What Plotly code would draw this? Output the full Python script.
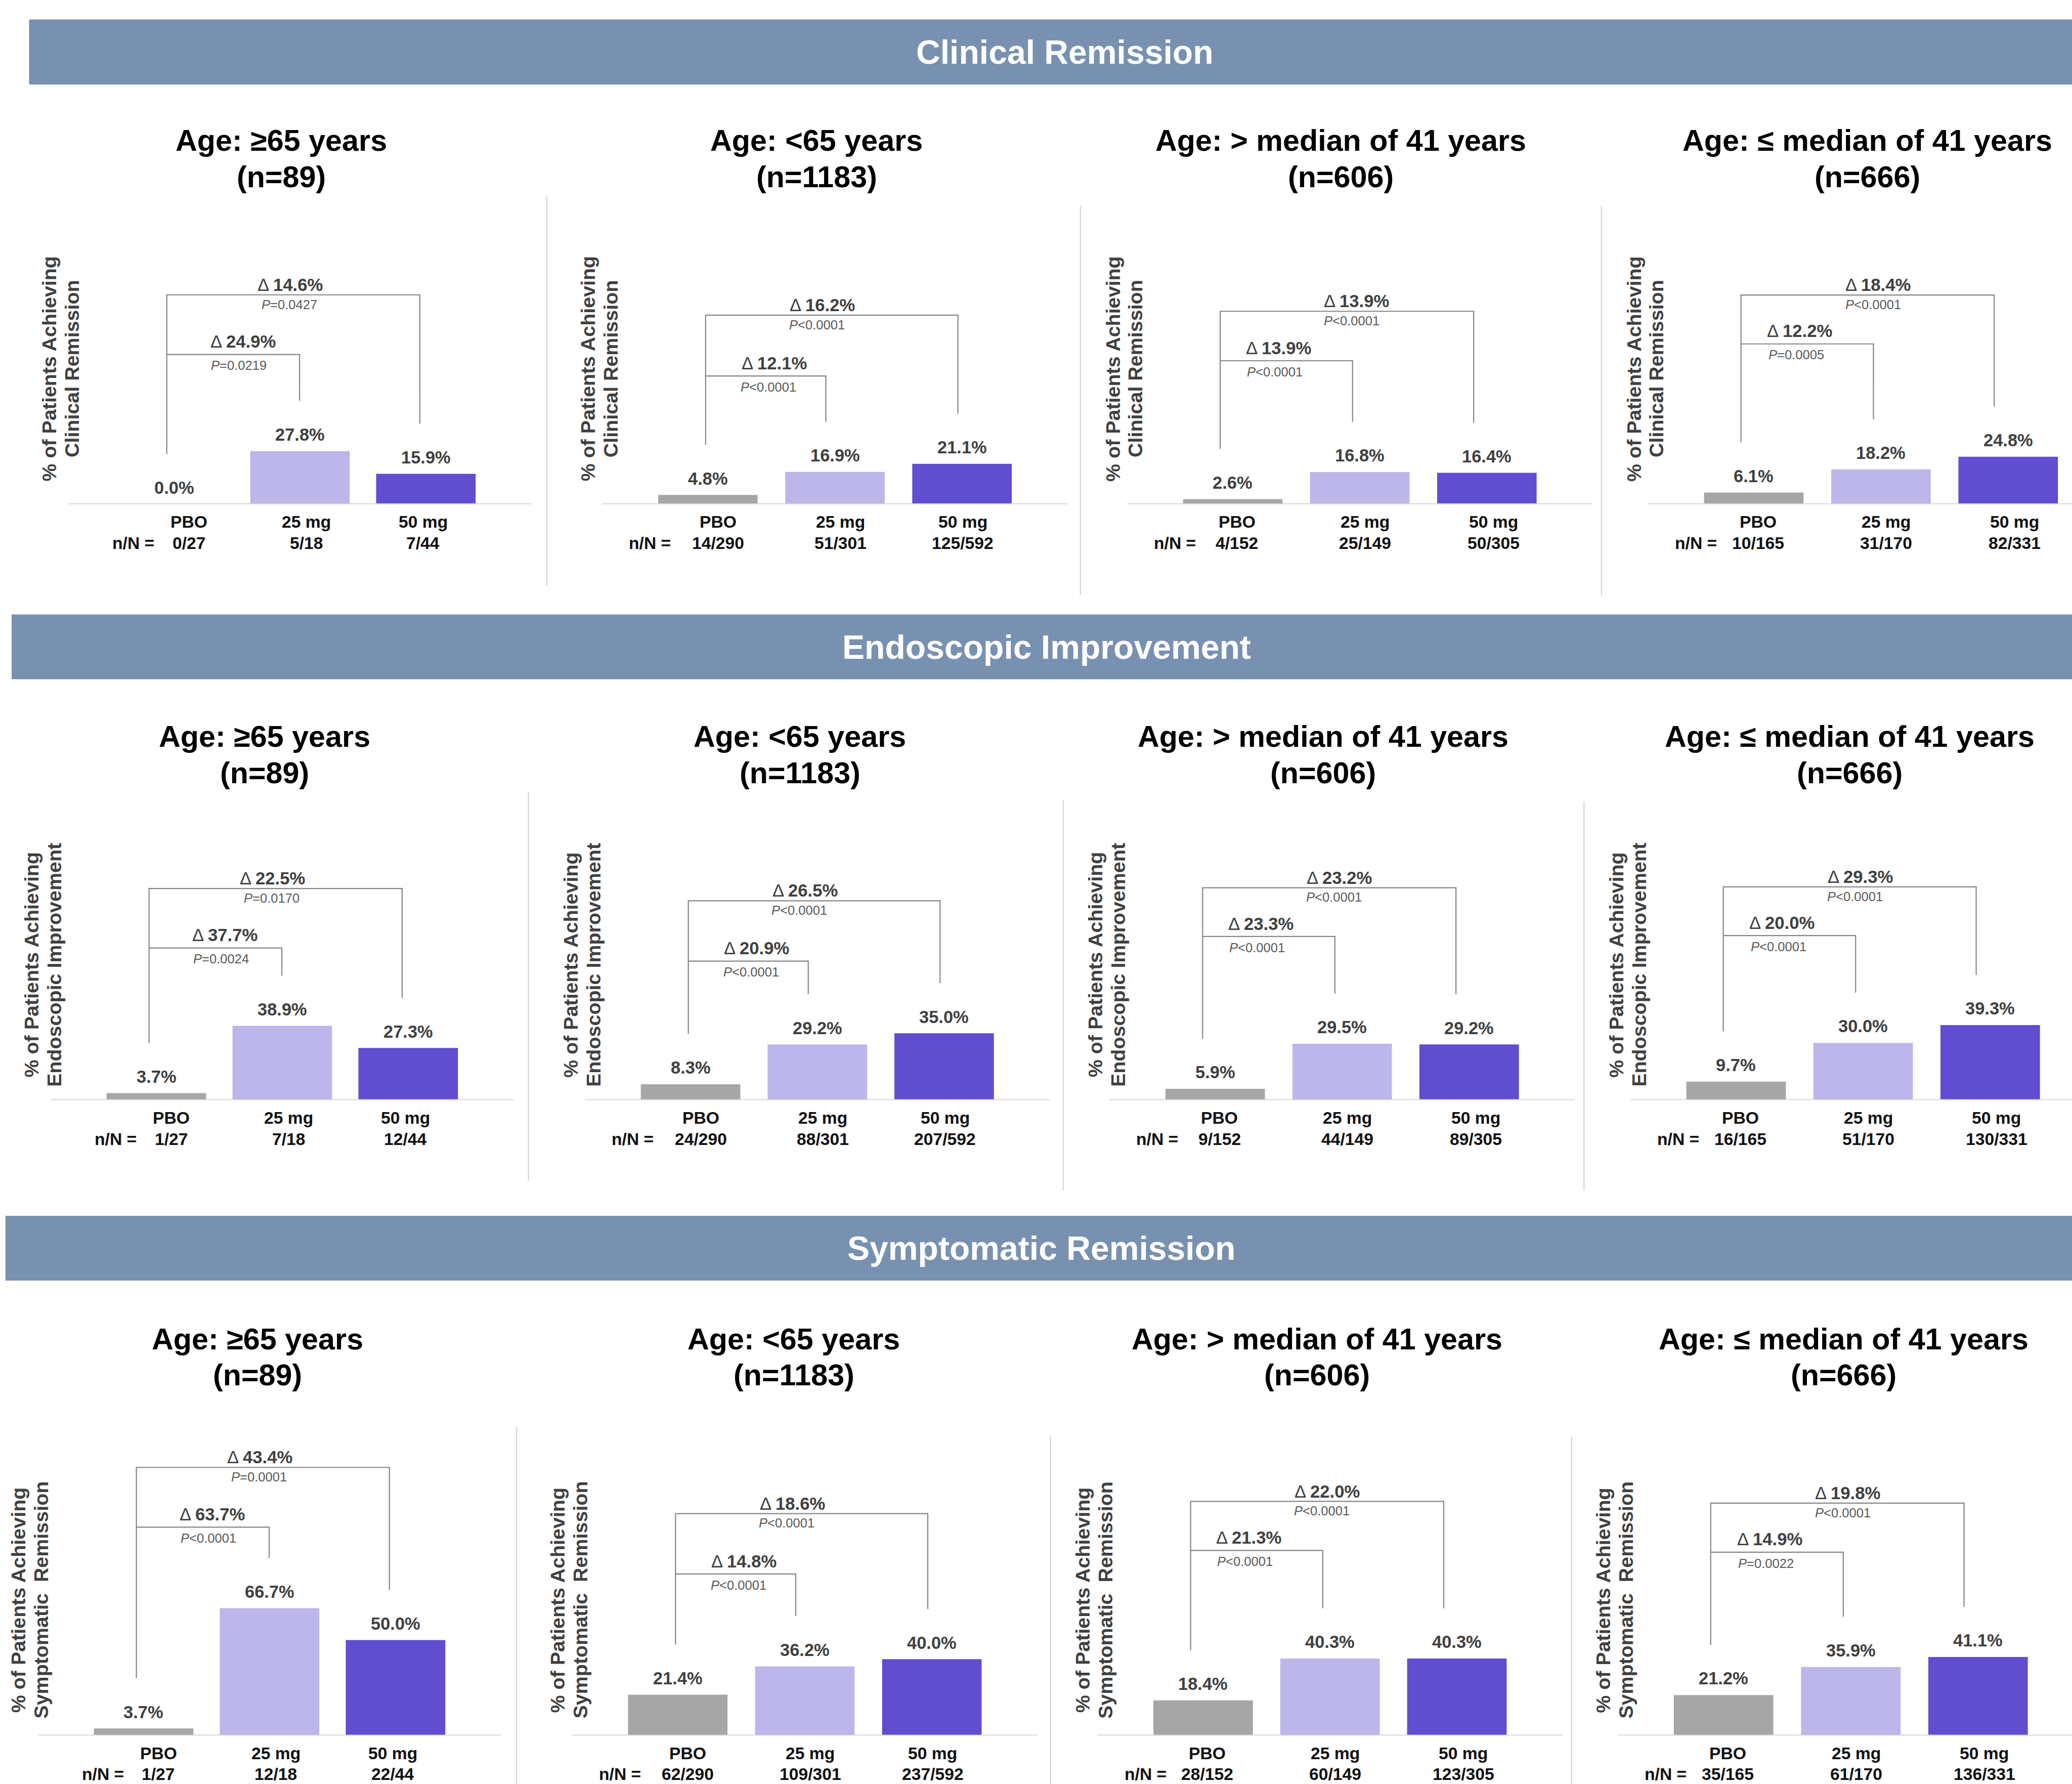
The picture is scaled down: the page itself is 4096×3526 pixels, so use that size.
import plotly.graph_objects as go

W, H = 4096, 3526
SW, SH = 1568.0, 1350.0          # layout constants below are expressed in this frame
K = W / SW                       # frame px -> output px
FONT = "Liberation Sans, Arial, Helvetica, sans-serif"

# ---------------- data ----------------
arms = ["PBO", "25 mg", "50 mg"]
endpoints = ["Clinical Remission", "Endoscopic Improvement", "Symptomatic Remission"]
ytitle_line1 = "% of Patients Achieving"
ytitle_line2 = ["Clinical Remission", "Endoscopic Improvement", "Symptomatic\u00a0 Remission"]
subgroup_titles = ["Age: ≥65 years", "Age: <65 years", "Age: > median of 41 years", "Age: ≤ median of 41 years"]
subgroup_n = ["(n=89)", "(n=1183)", "(n=606)", "(n=666)"]

# % of patients achieving endpoint: [subgroup][arm]
cr_pct = [[0.0, 27.8, 15.9], [4.8, 16.9, 21.1], [2.6, 16.8, 16.4], [6.1, 18.2, 24.8]]
ei_pct = [[3.7, 38.9, 27.3], [8.3, 29.2, 35.0], [5.9, 29.5, 29.2], [9.7, 30.0, 39.3]]
sr_pct = [[3.7, 66.7, 50.0], [21.4, 36.2, 40.0], [18.4, 40.3, 40.3], [21.2, 35.9, 41.1]]

cr_nN = [["0/27", "5/18", "7/44"], ["14/290", "51/301", "125/592"],
         ["4/152", "25/149", "50/305"], ["10/165", "31/170", "82/331"]]
ei_nN = [["1/27", "7/18", "12/44"], ["24/290", "88/301", "207/592"],
         ["9/152", "44/149", "89/305"], ["16/165", "51/170", "130/331"]]
sr_nN = [["1/27", "12/18", "22/44"], ["62/290", "109/301", "237/592"],
         ["28/152", "60/149", "123/305"], ["35/165", "61/170", "136/331"]]

# treatment differences vs PBO: [subgroup][25 mg, 50 mg]
cr_delta = [[24.9, 14.6], [12.1, 16.2], [13.9, 13.9], [12.2, 18.4]]
ei_delta = [[37.7, 22.5], [20.9, 26.5], [23.3, 23.2], [20.0, 29.3]]
sr_delta = [[63.7, 43.4], [14.8, 18.6], [21.3, 22.0], [14.9, 19.8]]
cr_p = [["=0.0219", "=0.0427"], ["<0.0001", "<0.0001"], ["<0.0001", "<0.0001"], ["=0.0005", "<0.0001"]]
ei_p = [["=0.0024", "=0.0170"], ["<0.0001", "<0.0001"], ["<0.0001", "<0.0001"], ["<0.0001", "<0.0001"]]
sr_p = [["<0.0001", "=0.0001"], ["<0.0001", "<0.0001"], ["<0.0001", "<0.0001"], ["=0.0022", "<0.0001"]]

pct = [cr_pct, ei_pct, sr_pct]
nN = [cr_nN, ei_nN, sr_nN]
delta = [cr_delta, ei_delta, sr_delta]
pval = [cr_p, ei_p, sr_p]

# ---------------- layout / style ----------------
bar_colors = ["#A6A6A6", "#BDB6EA", "#604DD0"]
BAND = "#7891B0"
PX_PER_PCT = 1.445
PLOT_H = 215.0
BASE_PAD = 80.0
BAR_W = 75.3
GAP_PX = 38.0

row_baseline = [381.5, 832.5, 1313.3]
band_top = [14.7, 465.0, 920.0]
band_bottom = [63.9, 514.0, 969.0]
band_left = [22.0, 8.8, 4.1]
band_text_x = [806.0, 792.0, 788.0]
panel_c0 = [[131.7, 535.7, 932.9, 1327.2], [118.3, 522.6, 919.6, 1313.8], [108.7, 512.9, 910.5, 1304.3]]
panel_step = [[95.3, 96.15, 96.15, 96.25], [95.3, 95.95, 96.1, 96.15], [95.3, 96.15, 96.0, 96.3]]
title_x = [[213.0, 618.0, 1014.7, 1413.1], [200.3, 605.4, 1001.2, 1399.6], [195.0, 600.8, 996.6, 1395.0]]
title_y = [[106.2, 134.0], [557.4, 584.9], [1013.1, 1040.5]]
# bracket levels in % units: (inner, outer)
bracket_levels = [[(78.4, 109.6), (67.1, 99.0), (75.1, 101.0), (83.9, 109.5)],
                  [(79.7, 110.8), (72.8, 104.4), (85.7, 111.2), (86.2, 111.7)],
                  [(109.1, 140.4), (84.6, 116.2), (96.9, 122.6), (96.0, 121.7)]]
col_bracket_dx = [(-5.5, -0.3, -4.6), (-1.7, -6.9, -3.1), (-9.5, -5.5, -10.0), (-9.7, -5.7, -10.6)]
col_outer_text_dx = [(-2.4, -3.1), (-7.0, -11.4), (7.4, 3.6), (7.9, 4.1)]
col_inner_text_dx = [(7.3, 4.3), (6.3, 2.1), (-6.0, -8.9), (-5.6, -8.3)]
col_label_dx = [(11.3, 4.8, -2.2), (7.7, 4.2, 0.6), (3.2, 3.9, 4.9), (3.3, 4.0, 4.7)]
col_nN_dx = [-30.7, -43.8, -43.8, -43.8]
col_ytitle_dx = [(-94.6, -77.6), (-91.0, -73.8), (-91.0, -73.8), (-91.0, -73.8)]
separators = [[(413.7, 148.0, 443.0), (817.6, 155.7, 450.3), (1211.9, 155.8, 450.5)],
              [(399.9, 599.0, 893.5), (804.7, 605.5, 900.9), (1198.7, 606.5, 900.9)],
              [(390.9, 1079.5, 1350.0), (795.0, 1087.1, 1350.0), (1189.3, 1087.3, 1350.0)]]

F_BAND, F_TITLE, F_YT, F_VAL, F_DELTA, F_P, F_CAT = 25.3, 22.7, 15.1, 13.2, 13.3, 9.8, 12.9


def px(x):
    return x / SW


def py(y):
    return 1 - y / SH


def esc(t):
    return t.replace("<", "&lt;").replace(">", "&gt;")


fig = go.Figure()
shapes, ann = [], []
axes_layout = {}

n = 0
for r in range(3):
    yb = row_baseline[r]
    shapes.append(dict(type="rect", xref="paper", yref="paper", x0=px(band_left[r]), x1=1.0,
                       y0=py(band_bottom[r]), y1=py(band_top[r]), fillcolor=BAND,
                       line=dict(width=0), layer="below"))
    ann.append(dict(text=f"<b>{endpoints[r]}</b>", xref="paper", yref="paper",
                    x=px(band_text_x[r]), y=py((band_top[r] + band_bottom[r]) / 2),
                    showarrow=False, xanchor="center", yanchor="middle",
                    font=dict(size=F_BAND * K, color="white", family=FONT)))
    for (sx, sy0, sy1) in separators[r]:
        shapes.append(dict(type="line", xref="paper", yref="paper", x0=px(sx), x1=px(sx),
                           y0=py(sy1), y1=py(sy0), line=dict(color="#D4D4D4", width=2.2)))

    for c in range(4):
        n += 1
        xa = "x" if n == 1 else f"x{n}"
        ya = "y" if n == 1 else f"y{n}"
        c0 = panel_c0[r][c]
        s = panel_step[r][c]
        left = c0 - BASE_PAD
        right = min(SW, c0 + 2 * s + BASE_PAD)
        axes_layout["xaxis" if n == 1 else f"xaxis{n}"] = dict(
            domain=[px(left), px(right)], range=[(left - c0) / s, (right - c0) / s],
            visible=False, fixedrange=True, anchor=ya)
        axes_layout["yaxis" if n == 1 else f"yaxis{n}"] = dict(
            domain=[py(yb), py(yb - PLOT_H)], range=[0, PLOT_H / PX_PER_PCT],
            visible=False, fixedrange=True, anchor=xa)

        vals = pct[r][c]
        fig.add_trace(go.Bar(x=[0, 1, 2], y=vals, width=BAR_W / s, xaxis=xa, yaxis=ya,
                             marker=dict(color=bar_colors, line=dict(width=0)),
                             hoverinfo="skip", showlegend=False))

        # baseline
        shapes.append(dict(type="line", xref=f"{xa} domain", yref=ya, x0=0, x1=1, y0=0, y1=0,
                           line=dict(color="#D3D3D3", width=3.5)))

        # brackets
        dL, dI, dR = col_bracket_dx[c]
        xL, xI, xR = 0 + dL / s, 1 + dI / s, 2 + dR / s
        gap = GAP_PX / PX_PER_PCT
        lv_in, lv_out = bracket_levels[r][c]
        fig.add_trace(go.Scatter(x=[xL, xL, xR, xR], y=[vals[0] + gap, lv_out, lv_out, vals[2] + gap],
                                 mode="lines", line=dict(color="#858585", width=2.2),
                                 xaxis=xa, yaxis=ya, hoverinfo="skip", showlegend=False))
        fig.add_trace(go.Scatter(x=[xL, xI, xI], y=[lv_in, lv_in, vals[1] + gap],
                                 mode="lines", line=dict(color="#858585", width=2.2),
                                 xaxis=xa, yaxis=ya, hoverinfo="skip", showlegend=False))

        d25, d50 = delta[r][c]
        p25, p50 = pval[r][c]
        # outer (50 mg vs PBO)
        ann.append(dict(text=f"Δ <b>{d50:.1f}%</b>", xref=xa, yref=ya, x=(xL + xR) / 2, y=lv_out,
                        xshift=col_outer_text_dx[c][0] * K, yshift=7.6 * K, showarrow=False,
                        xanchor="center", yanchor="middle",
                        font=dict(size=F_DELTA * K, color="#404040", family=FONT)))
        ann.append(dict(text=f"<i>P</i>{esc(p50)}", xref=xa, yref=ya, x=(xL + xR) / 2, y=lv_out,
                        xshift=col_outer_text_dx[c][1] * K, yshift=-7.2 * K, showarrow=False,
                        xanchor="center", yanchor="middle",
                        font=dict(size=F_P * K, color="#595959", family=FONT)))
        # inner (25 mg vs PBO)
        ann.append(dict(text=f"Δ <b>{d25:.1f}%</b>", xref=xa, yref=ya, x=(xL + xI) / 2, y=lv_in,
                        xshift=col_inner_text_dx[c][0] * K, yshift=9.7 * K, showarrow=False,
                        xanchor="center", yanchor="middle",
                        font=dict(size=F_DELTA * K, color="#404040", family=FONT)))
        ann.append(dict(text=f"<i>P</i>{esc(p25)}", xref=xa, yref=ya, x=(xL + xI) / 2, y=lv_in,
                        xshift=col_inner_text_dx[c][1] * K, yshift=-8.3 * K, showarrow=False,
                        xanchor="center", yanchor="middle",
                        font=dict(size=F_P * K, color="#595959", family=FONT)))

        # value labels + category labels
        for i in range(3):
            ann.append(dict(text=f"<b>{vals[i]:.1f}%</b>", xref=xa, yref=ya, x=i, y=vals[i],
                            yshift=12.5 * K, showarrow=False, xanchor="center", yanchor="middle",
                            font=dict(size=F_VAL * K, color="#404040", family=FONT)))
            ann.append(dict(text=f"<b>{arms[i]}</b>", xref=xa, yref=ya, x=i, y=0,
                            xshift=col_label_dx[c][i] * K, yshift=-13.4 * K, showarrow=False,
                            xanchor="center", yanchor="middle",
                            font=dict(size=F_CAT * K, color="#111111", family=FONT)))
            ann.append(dict(text=f"<b>{nN[r][c][i]}</b>", xref=xa, yref=ya, x=i, y=0,
                            xshift=col_label_dx[c][i] * K, yshift=-29.4 * K, showarrow=False,
                            xanchor="center", yanchor="middle",
                            font=dict(size=F_CAT * K, color="#111111", family=FONT)))
        ann.append(dict(text="<b>n/N =</b>", xref=xa, yref=ya, x=0, y=0,
                        xshift=col_nN_dx[c] * K, yshift=-29.4 * K, showarrow=False,
                        xanchor="center", yanchor="middle",
                        font=dict(size=F_CAT * K, color="#111111", family=FONT)))

        # y-axis title (two lines)
        for j, line in enumerate([ytitle_line1, ytitle_line2[r]]):
            ann.append(dict(text=f"<b>{esc(line)}</b>", xref="paper", yref="paper",
                            x=px(c0 + col_ytitle_dx[c][j]), y=py(yb - 102.5), textangle=-90,
                            showarrow=False, xanchor="center", yanchor="middle",
                            font=dict(size=F_YT * K, color="#404040", family=FONT)))

        # panel title
        for j, line in enumerate([subgroup_titles[c], subgroup_n[c]]):
            ann.append(dict(text=f"<b>{esc(line)}</b>", xref="paper", yref="paper",
                            x=px(title_x[r][c]), y=py(title_y[r][j]), showarrow=False,
                            xanchor="center", yanchor="middle",
                            font=dict(size=F_TITLE * K, color="#000000", family=FONT)))

fig.update_layout(
    width=W, height=H, margin=dict(l=0, r=0, t=0, b=0, pad=0),
    paper_bgcolor="white", plot_bgcolor="white", showlegend=False,
    barmode="group", shapes=shapes, annotations=ann,
    font=dict(family=FONT), **axes_layout)

fig.write_html("out.html")
